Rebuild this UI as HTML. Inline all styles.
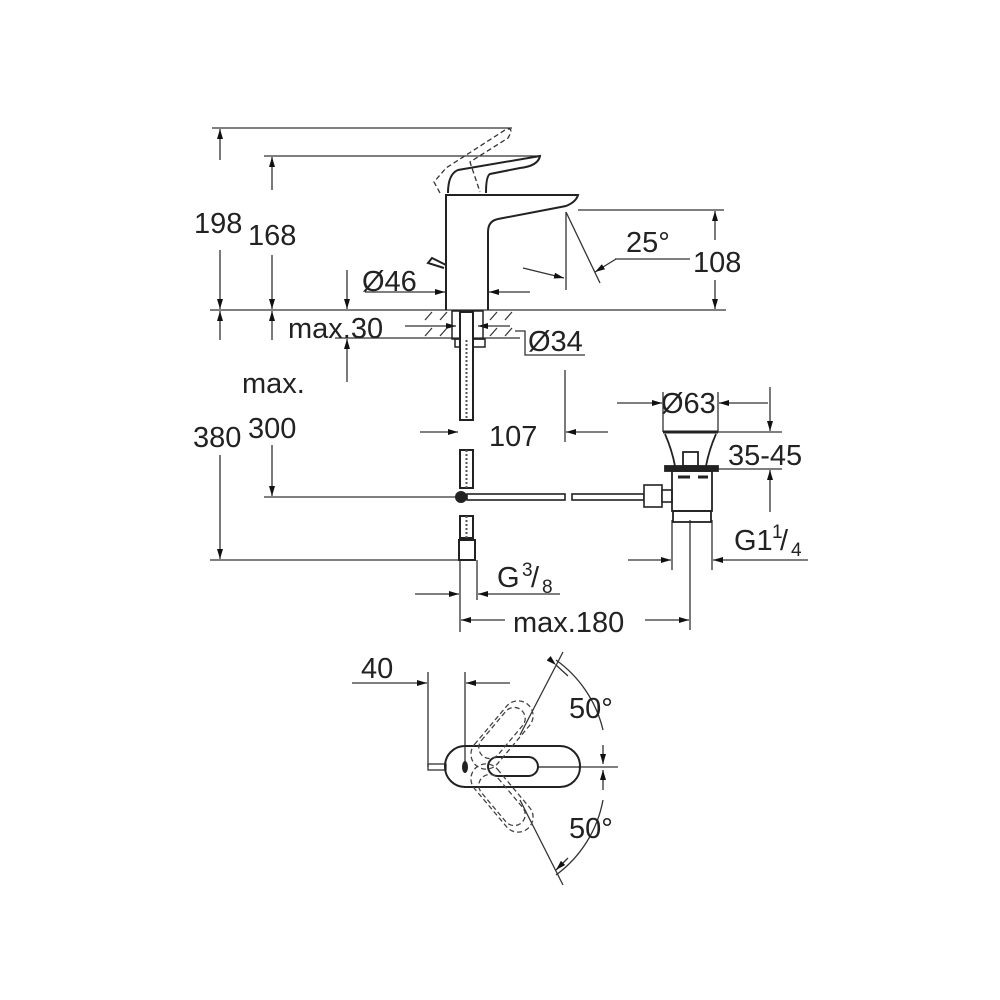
<!DOCTYPE html>
<html><head><meta charset="utf-8"><style>
html,body{margin:0;padding:0;background:#fff}
svg{display:block}
text{font-family:"Liberation Sans",sans-serif;fill:#222}
</style></head><body>
<svg width="1000" height="1000" viewBox="0 0 1000 1000" xmlns="http://www.w3.org/2000/svg">
<defs>
<marker id="a" viewBox="0 0 10 6" refX="10" refY="3" markerWidth="10" markerHeight="6" markerUnits="userSpaceOnUse" orient="auto"><path d="M0,0L10,3L0,6z" fill="#111"/></marker>
</defs>
<g stroke="#333" stroke-width="1.3" fill="none">
<line x1="212" y1="128" x2="512" y2="128"/>
<line x1="264" y1="156" x2="540" y2="156"/>
<line x1="210" y1="310" x2="726" y2="310"/>
<line x1="578" y1="210" x2="724" y2="210"/>
<line x1="210" y1="560" x2="470" y2="560"/>
<line x1="264" y1="497" x2="458" y2="497"/>
<line x1="220" y1="160" x2="220" y2="129" marker-end="url(#a)"/>
<line x1="220" y1="250" x2="220" y2="309" marker-end="url(#a)"/>
<line x1="272" y1="190" x2="272" y2="157" marker-end="url(#a)"/>
<line x1="272" y1="255" x2="272" y2="309" marker-end="url(#a)"/>
<line x1="220" y1="340" x2="220" y2="311" marker-end="url(#a)"/>
<line x1="220" y1="455" x2="220" y2="559" marker-end="url(#a)"/>
<line x1="272" y1="340" x2="272" y2="311" marker-end="url(#a)"/>
<line x1="272" y1="445" x2="272" y2="496" marker-end="url(#a)"/>
<line x1="715" y1="240" x2="715" y2="211" marker-end="url(#a)"/>
<line x1="715" y1="280" x2="715" y2="309" marker-end="url(#a)"/>
<line x1="347" y1="270" x2="347" y2="309" marker-end="url(#a)"/>
<line x1="347" y1="382" x2="347" y2="339" marker-end="url(#a)"/>
<line x1="335" y1="338" x2="520" y2="338"/>
<line x1="405" y1="326" x2="456" y2="326" marker-end="url(#a)"/>
<line x1="510" y1="326" x2="478" y2="326" marker-end="url(#a)"/>
<line x1="365" y1="292" x2="445" y2="292" marker-end="url(#a)"/>
<line x1="530" y1="292" x2="489" y2="292" marker-end="url(#a)"/>
<polyline points="515,331 525,331 525,355 585,355"/>
<line x1="566" y1="212" x2="566" y2="290"/>
<line x1="566" y1="212" x2="600" y2="283"/>
<line x1="523" y1="268" x2="564" y2="278" marker-end="url(#a)"/>
<line x1="690" y1="259" x2="615" y2="259"/>
<line x1="616" y1="259" x2="595" y2="272" marker-end="url(#a)"/>
<line x1="565" y1="370" x2="565" y2="442"/>
<line x1="420" y1="432" x2="458" y2="432" marker-end="url(#a)"/>
<line x1="608" y1="432" x2="566" y2="432" marker-end="url(#a)"/>
<line x1="663" y1="392" x2="663" y2="432"/>
<line x1="718" y1="392" x2="718" y2="432"/>
<line x1="617" y1="403" x2="662" y2="403" marker-end="url(#a)"/>
<line x1="768" y1="403" x2="719" y2="403" marker-end="url(#a)"/>
<line x1="718" y1="432" x2="782" y2="432"/>
<line x1="718" y1="469" x2="782" y2="469"/>
<line x1="770" y1="387" x2="770" y2="431" marker-end="url(#a)"/>
<line x1="770" y1="512" x2="770" y2="470" marker-end="url(#a)"/>
<line x1="672" y1="520" x2="672" y2="570"/>
<line x1="712" y1="520" x2="712" y2="570"/>
<line x1="690" y1="520" x2="690" y2="630"/>
<line x1="628" y1="560" x2="671" y2="560" marker-end="url(#a)"/>
<line x1="808" y1="560" x2="713" y2="560" marker-end="url(#a)"/>
<line x1="460" y1="560" x2="460" y2="632"/>
<line x1="477" y1="560" x2="477" y2="600"/>
<line x1="415" y1="594" x2="459" y2="594" marker-end="url(#a)"/>
<line x1="560" y1="594" x2="478" y2="594" marker-end="url(#a)"/>
<line x1="505" y1="620" x2="461" y2="620" marker-end="url(#a)"/>
<line x1="645" y1="620" x2="689" y2="620" marker-end="url(#a)"/>
</g>
<g stroke="#222" stroke-width="2" fill="none">
<path d="M446,310 L446,195 L578,195 Q576,202 566,206 L498,219 Q488,221 488,232 L488,310"/>
<path d="M448,193 Q448,174 458,170 L540,156 Q538,166 520,168 L490,174 Q486,176 486,193"/>
<path d="M446,265 L432,258 L428,263 L444,268"/>
</g>
<g stroke="#333" stroke-width="1.3" fill="none" stroke-dasharray="5,3">
<path d="M440,193 L434,182 L446,168 L505,130 Q515,126 508,138 L470,162 L480,192"/>
</g>
<g stroke="#333" stroke-width="1.2">
<line x1="425" y1="320" x2="432" y2="312"/><line x1="440" y1="320" x2="447" y2="312"/>
<line x1="425" y1="336" x2="432" y2="328"/><line x1="440" y1="336" x2="447" y2="328"/>
<line x1="490" y1="320" x2="497" y2="312"/><line x1="505" y1="320" x2="512" y2="312"/>
<line x1="490" y1="336" x2="497" y2="328"/><line x1="505" y1="336" x2="512" y2="328"/>
</g>
<g stroke="#222" stroke-width="1.5" fill="none">
<rect x="452" y="311" width="31" height="28"/>
<rect x="455" y="339" width="30" height="8"/>
</g>
<g stroke="#222" stroke-width="2" fill="#fff">
<rect x="460" y="312" width="13" height="108" fill="#fff"/>
<rect x="460" y="450" width="13" height="38"/>
<rect x="460" y="516" width="13" height="22"/>
</g>
<g stroke="#555" stroke-width="2" stroke-dasharray="2,2">
<line x1="466.5" y1="340" x2="466.5" y2="420"/>
<line x1="466.5" y1="450" x2="466.5" y2="488"/>
<line x1="466.5" y1="516" x2="466.5" y2="538"/>
</g>
<rect x="459" y="540" width="16" height="20" fill="#fff" stroke="#222" stroke-width="2"/>
<circle cx="461" cy="497" r="6" fill="#222"/>
<g stroke="#222" stroke-width="1.6" fill="#fff">
<rect x="467" y="494" width="98" height="6"/>
<rect x="572" y="494" width="72" height="6"/>
<rect x="644" y="485" width="18" height="22"/>
<rect x="662" y="490" width="10" height="12"/>
</g>
<g stroke="#222" stroke-width="1.8" fill="none">
<line x1="663" y1="432" x2="718" y2="432" stroke-width="3"/>
<path d="M665,434 Q672,450 675,466 M716,434 Q709,450 706,466"/>
<rect x="683" y="452" width="15" height="14"/>
<rect x="665" y="466" width="53" height="5" fill="#222"/>
<rect x="672" y="471" width="40" height="40"/>
<rect x="673" y="511" width="38" height="11"/>
<line x1="678" y1="477" x2="690" y2="477" stroke-width="3"/>
<line x1="698" y1="477" x2="708" y2="477" stroke-width="3"/>
</g>
<g stroke="#333" stroke-width="1.3" fill="none">
<line x1="428" y1="672" x2="428" y2="767"/>
<line x1="465" y1="672" x2="465" y2="770"/>
<line x1="352" y1="683" x2="427" y2="683" marker-end="url(#a)"/>
<line x1="510" y1="683" x2="466" y2="683" marker-end="url(#a)"/>
<line x1="520" y1="735" x2="563" y2="652"/>
<line x1="520" y1="800" x2="563" y2="885"/>
<line x1="578" y1="767" x2="618" y2="767"/>
<path d="M556,660 A120,120 0 0 1 603,730"/>
<path d="M603,800 A120,120 0 0 1 556,875"/>
<line x1="556" y1="665" x2="568" y2="676" marker-start="url(#a)"/>
<line x1="603" y1="745" x2="603" y2="764" marker-end="url(#a)"/>
<line x1="603" y1="790" x2="603" y2="770" marker-end="url(#a)"/>
<line x1="568" y1="858" x2="556" y2="870" marker-end="url(#a)"/>
<rect x="428" y="764" width="18" height="6"/>
</g>
<g stroke="#222" stroke-width="2" fill="none">
<rect x="445" y="746" width="135" height="41" rx="20"/>
<rect x="488" y="757" width="50" height="19" rx="9.5"/>
<line x1="538" y1="767" x2="580" y2="767" stroke-width="1.3"/>
</g>
<ellipse cx="465" cy="767" rx="3" ry="6" fill="#222"/>
<g stroke="#444" stroke-width="1.3" fill="none" stroke-dasharray="5,3">
<rect x="462" y="720" width="80" height="30" rx="15" transform="rotate(-50 502 735)"/>
<rect x="472" y="722" width="60" height="22" rx="11" transform="rotate(-50 502 733)"/>
<rect x="462" y="783" width="80" height="30" rx="15" transform="rotate(50 502 798)"/>
<rect x="472" y="789" width="60" height="22" rx="11" transform="rotate(50 502 800)"/>
</g>
<g font-size="29">
<text x="194" y="233">198</text>
<text x="248" y="245">168</text>
<text x="626" y="252">25°</text>
<text x="693" y="272">108</text>
<text x="362" y="291">Ø46</text>
<text x="288" y="338">max.30</text>
<text x="528" y="351">Ø34</text>
<text x="242" y="393">max.</text>
<text x="193" y="447">380</text>
<text x="248" y="438">300</text>
<text x="489" y="446">107</text>
<text x="661" y="413">Ø63</text>
<text x="728" y="465">35-45</text>
<text x="734" y="550">G1</text>
<text x="772" y="538" font-size="19">1</text>
<text x="780" y="550">/</text>
<text x="791" y="556" font-size="19">4</text>
<text x="497" y="587">G</text>
<text x="522" y="576" font-size="19">3</text>
<text x="531" y="587">/</text>
<text x="542" y="593" font-size="19">8</text>
<text x="513" y="632">max.180</text>
<text x="361" y="678">40</text>
<text x="569" y="718">50°</text>
<text x="569" y="838">50°</text>
</g>
</svg>
</body></html>
